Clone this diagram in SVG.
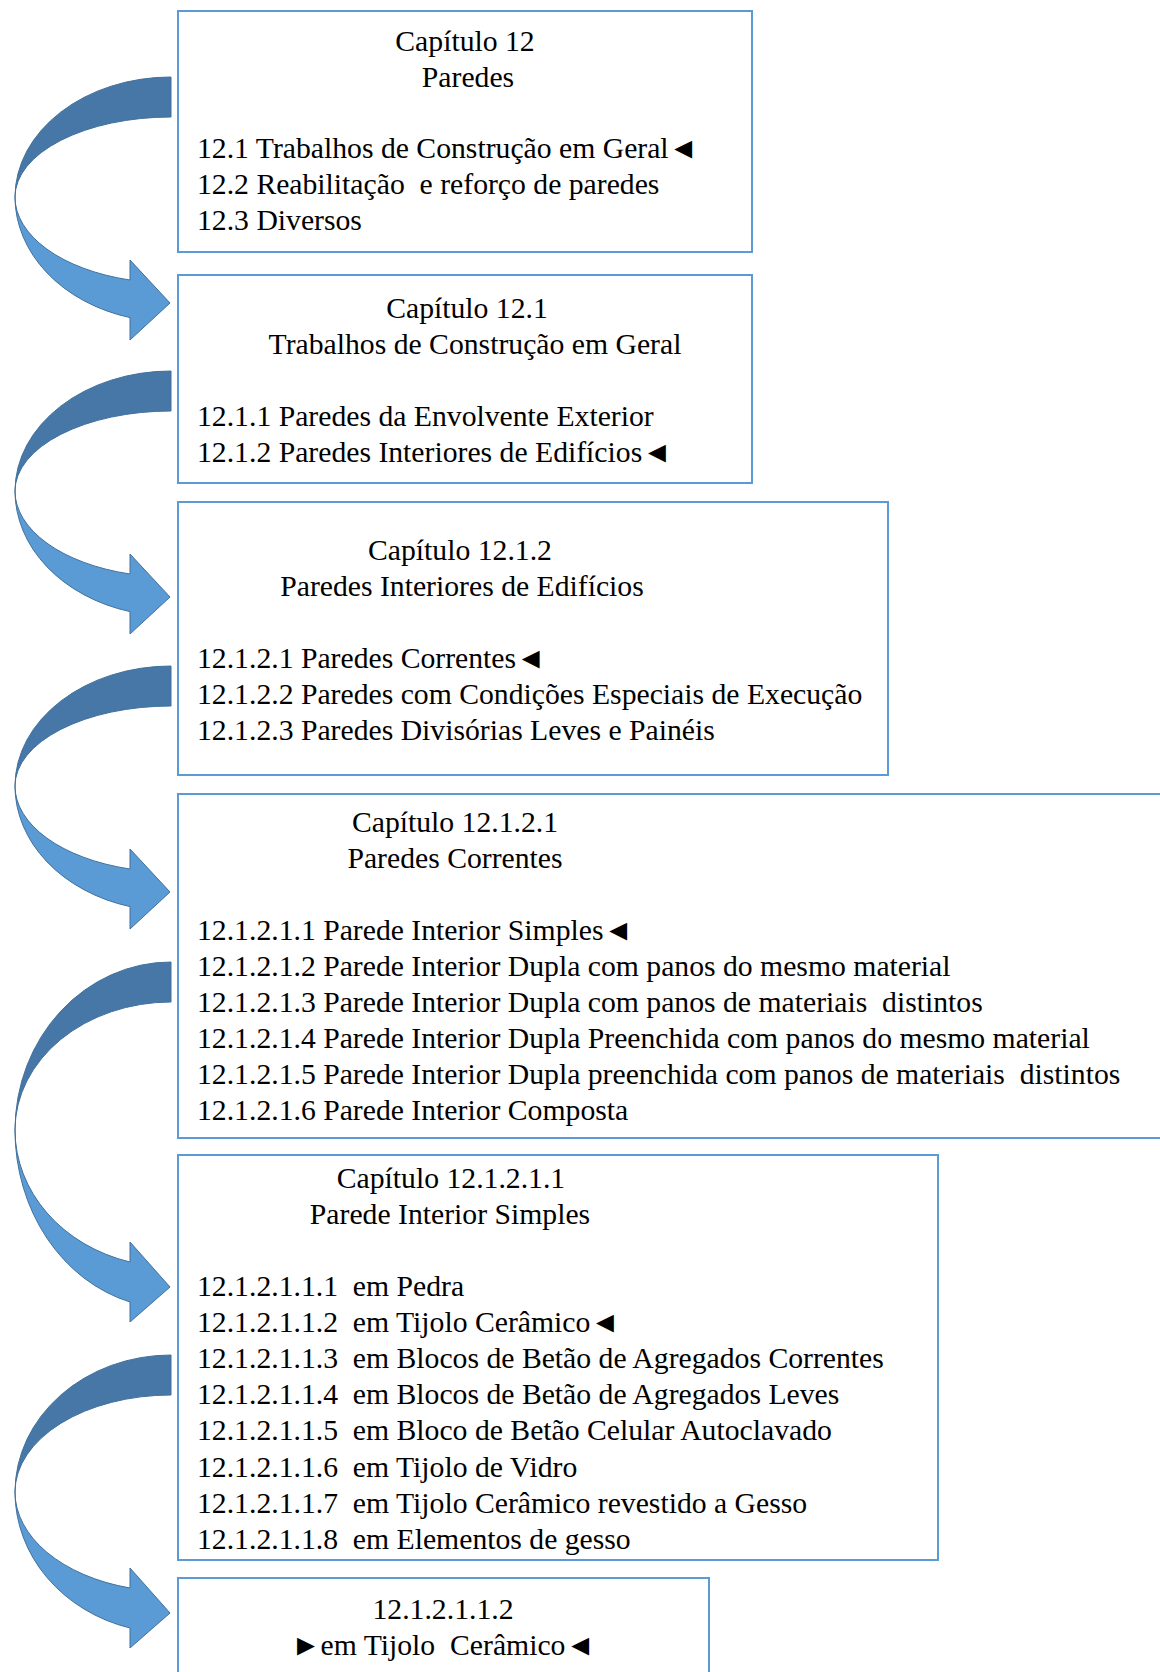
<svg xmlns="http://www.w3.org/2000/svg" width="1160" height="1672" viewBox="0 0 1160 1672">
<style>
.box{fill:#fff;stroke:#5B9BD5;stroke-width:2}
.t{font-family:"Liberation Serif","Times New Roman",serif;font-size:29.7px;fill:#000;white-space:pre}
.c{text-anchor:middle}
.dk{fill:#4677A6;stroke:#41719C;stroke-width:1}
.lt{fill:#5B9BD5;stroke:#41719C;stroke-width:1}
</style>
<rect width="1160" height="1672" fill="#fff"/>
<g id="connectors">
  <g id="arrow1">
    <path class="dk" d="M171,77 A156,120 0 0,0 15,197 A156,80 0 0,1 171,117 Z"/>
    <path class="lt" d="M15,197 A156,125 0 0,0 130,317.6 L130,340 L170,303 L130,260 L130,280 A156,86 0 0,1 15,197 Z"/>
  </g>
  <g id="arrow2" transform="translate(0,294)">
    <path class="dk" d="M171,77 A156,120 0 0,0 15,197 A156,80 0 0,1 171,117 Z"/>
    <path class="lt" d="M15,197 A156,125 0 0,0 130,317.6 L130,340 L170,303 L130,260 L130,280 A156,86 0 0,1 15,197 Z"/>
  </g>
  <g id="arrow3" transform="translate(0,589)">
    <path class="dk" d="M171,77 A156,120 0 0,0 15,197 A156,80 0 0,1 171,117 Z"/>
    <path class="lt" d="M15,197 A156,125 0 0,0 130,317.6 L130,340 L170,303 L130,260 L130,280 A156,86 0 0,1 15,197 Z"/>
  </g>
  <g id="arrow4">
    <path class="dk" d="M171,962 A156,168 0 0,0 15,1130 A156,128 0 0,1 171,1002 Z"/>
    <path class="lt" d="M15,1130 A156,178 0 0,0 130,1302 L130,1322 L170,1287 L130,1242 L130,1262 A156,137 0 0,1 15,1130 Z"/>
  </g>
  <g id="arrow5">
    <path class="dk" d="M171,1355 A156,137 0 0,0 15,1492 A156,97 0 0,1 171,1395 Z"/>
    <path class="lt" d="M15,1492 A156,141 0 0,0 130,1628 L130,1648 L170,1613 L130,1568 L130,1588 A156,99.5 0 0,1 15,1492 Z"/>
  </g>
</g>
<g id="node1">
  <rect class="box" x="178" y="11" width="574" height="241"/>
  <text class="t c" x="465" y="51">Capítulo 12</text>
  <text class="t c" x="468" y="87">Paredes</text>
  <text class="t" x="197" y="158">12.1 Trabalhos de Construção em Geral◄</text>
  <text class="t" x="197" y="194">12.2 Reabilitação  e reforço de paredes</text>
  <text class="t" x="197" y="230">12.3 Diversos</text>
</g>
<g id="node2">
  <rect class="box" x="178" y="275" width="574" height="208"/>
  <text class="t c" x="467" y="318">Capítulo 12.1</text>
  <text class="t c" x="475" y="354">Trabalhos de Construção em Geral</text>
  <text class="t" x="197" y="426">12.1.1 Paredes da Envolvente Exterior</text>
  <text class="t" x="197" y="462">12.1.2 Paredes Interiores de Edifícios◄</text>
</g>
<g id="node3">
  <rect class="box" x="178" y="502" width="710" height="273"/>
  <text class="t c" x="460" y="560">Capítulo 12.1.2</text>
  <text class="t c" x="462" y="596">Paredes Interiores de Edifícios</text>
  <text class="t" x="197" y="668">12.1.2.1 Paredes Correntes◄</text>
  <text class="t" x="197" y="704">12.1.2.2 Paredes com Condições Especiais de Execução</text>
  <text class="t" x="197" y="740">12.1.2.3 Paredes Divisórias Leves e Painéis</text>
</g>
<g id="node4">
  <rect class="box" x="178" y="794" width="1000" height="344"/>
  <text class="t c" x="455" y="832">Capítulo 12.1.2.1</text>
  <text class="t c" x="455" y="868">Paredes Correntes</text>
  <text class="t" x="197" y="940">12.1.2.1.1 Parede Interior Simples◄</text>
  <text class="t" x="197" y="976">12.1.2.1.2 Parede Interior Dupla com panos do mesmo material</text>
  <text class="t" x="197" y="1012">12.1.2.1.3 Parede Interior Dupla com panos de materiais  distintos</text>
  <text class="t" x="197" y="1048">12.1.2.1.4 Parede Interior Dupla Preenchida com panos do mesmo material</text>
  <text class="t" x="197" y="1084">12.1.2.1.5 Parede Interior Dupla preenchida com panos de materiais  distintos</text>
  <text class="t" x="197" y="1120">12.1.2.1.6 Parede Interior Composta</text>
</g>
<g id="node5">
  <rect class="box" x="178" y="1155" width="760" height="405"/>
  <text class="t c" x="451" y="1188">Capítulo 12.1.2.1.1</text>
  <text class="t c" x="450" y="1224">Parede Interior Simples</text>
  <text class="t" x="197" y="1296">12.1.2.1.1.1  em Pedra</text>
  <text class="t" x="197" y="1332">12.1.2.1.1.2  em Tijolo Cerâmico◄</text>
  <text class="t" x="197" y="1368">12.1.2.1.1.3  em Blocos de Betão de Agregados Correntes</text>
  <text class="t" x="197" y="1404">12.1.2.1.1.4  em Blocos de Betão de Agregados Leves</text>
  <text class="t" x="197" y="1440">12.1.2.1.1.5  em Bloco de Betão Celular Autoclavado</text>
  <text class="t" x="197" y="1477">12.1.2.1.1.6  em Tijolo de Vidro</text>
  <text class="t" x="197" y="1513">12.1.2.1.1.7  em Tijolo Cerâmico revestido a Gesso</text>
  <text class="t" x="197" y="1549">12.1.2.1.1.8  em Elementos de gesso</text>
</g>
<g id="node6">
  <rect class="box" x="178" y="1578" width="531" height="120"/>
  <text class="t c" x="443" y="1619">12.1.2.1.1.2</text>
  <text class="t c" x="443" y="1655">►em Tijolo  Cerâmico◄</text>
</g>
</svg>
